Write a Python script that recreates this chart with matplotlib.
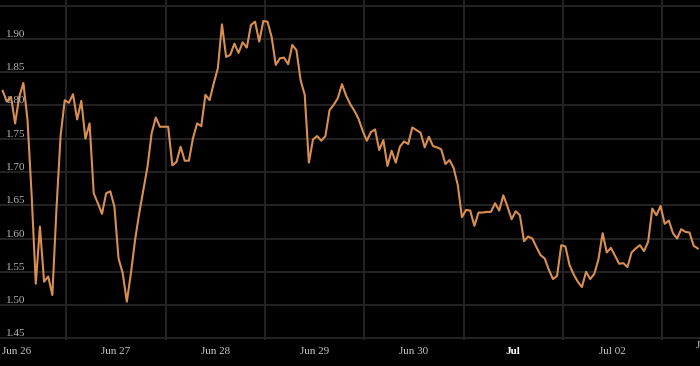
import numpy as np
import pandas as pd
import matplotlib
matplotlib.use('Agg')
import matplotlib.pyplot as plt
from matplotlib.transforms import offset_copy

# hourly price (Jun 25 evening -> Jul 02 evening)
price = [1.822, 1.806, 1.813, 1.773, 1.813, 1.834, 1.778, 1.665, 1.532, 1.618,
         1.535, 1.543, 1.515, 1.645, 1.755, 1.808, 1.804, 1.817, 1.779, 1.807,
         1.750, 1.773, 1.668, 1.653, 1.637, 1.668, 1.671, 1.648, 1.570, 1.548,
         1.505, 1.548, 1.598, 1.638, 1.673, 1.708, 1.758, 1.782, 1.768, 1.768,
         1.768, 1.710, 1.715, 1.738, 1.717, 1.717, 1.751, 1.773, 1.769, 1.816,
         1.808, 1.833, 1.856, 1.922, 1.873, 1.876, 1.893, 1.879, 1.895, 1.887,
         1.921, 1.926, 1.896, 1.927, 1.926, 1.903, 1.861, 1.871, 1.872, 1.862,
         1.891, 1.883, 1.838, 1.816, 1.714, 1.749, 1.754, 1.747, 1.754, 1.793,
         1.801, 1.811, 1.832, 1.815, 1.802, 1.792, 1.780, 1.762, 1.747, 1.760,
         1.764, 1.733, 1.748, 1.709, 1.732, 1.714, 1.738, 1.746, 1.742, 1.767,
         1.763, 1.759, 1.737, 1.753, 1.739, 1.737, 1.734, 1.712, 1.718, 1.706,
         1.680, 1.632, 1.643, 1.642, 1.619, 1.639, 1.639, 1.640, 1.640, 1.653,
         1.642, 1.665, 1.648, 1.629, 1.641, 1.635, 1.596, 1.603, 1.600, 1.587,
         1.575, 1.570, 1.553, 1.539, 1.544, 1.590, 1.588, 1.560, 1.546, 1.535,
         1.527, 1.550, 1.539, 1.547, 1.569, 1.608, 1.579, 1.586, 1.574, 1.562,
         1.563, 1.557, 1.579, 1.585, 1.590, 1.581, 1.595, 1.645, 1.635, 1.649,
         1.622, 1.627, 1.608, 1.600, 1.614, 1.610, 1.609, 1.589, 1.585]

times = pd.date_range('2024-06-25 20:37', periods=len(price), freq='h')

day_ticks = pd.date_range('2024-06-26', '2024-07-02', freq='D')
day_labels = ['Jun 26', 'Jun 27', 'Jun 28', 'Jun 29', 'Jun 30', 'Jul', 'Jul 02']
noon_lines = day_ticks + pd.Timedelta(hours=12)

y_grid = [1.45, 1.50, 1.55, 1.60, 1.65, 1.70, 1.75, 1.80, 1.85, 1.90, 1.95]
y_labels = ['1.45', '1.50', '1.55', '1.60', '1.65', '1.70', '1.75', '1.80', '1.85', '1.90']

serif = ['Liberation Serif', 'DejaVu Serif']
grid_col = '#262626'

fig = plt.figure(figsize=(7, 3.66), dpi=100, facecolor='black')
ax = fig.add_axes([0, 26 / 366, 1, 340 / 366], facecolor='black')

ax.plot(times, price, color='#d98f52', lw=1.5, solid_joinstyle='round', zorder=3)

ax.set_xlim(pd.Timestamp('2024-06-25 19:58'), pd.Timestamp('2024-07-02 21:09'))
ax.set_ylim(1.4474, 1.9586)

for s in ax.spines.values():
    s.set_visible(False)

# horizontal grid
ax.set_yticks(y_grid)
ax.tick_params(axis='y', length=0, labelleft=False)
ax.yaxis.grid(True, color=grid_col, lw=1.3)

# vertical grid at noon, labels at midnight
ax.set_xticks(noon_lines, minor=True)
ax.set_xticks(day_ticks)
ax.set_xticklabels(day_labels)
ax.xaxis.grid(True, which='minor', color=grid_col, lw=1.3)
ax.xaxis.grid(False, which='major')
ax.tick_params(axis='x', which='both', length=0, pad=5, labelsize=8, labelcolor='#c8c8c8')
for lab in ax.get_xticklabels():
    lab.set_family(serif)
    if lab.get_text() == 'Jul':
        lab.set_fontweight('bold')
        lab.set_color('white')

# y labels sit inside the plot, just above their grid line
tr = offset_copy(ax.get_yaxis_transform(), fig=fig, x=0, y=2, units='dots')
for v, s in zip(y_grid, y_labels):
    ax.text(0.008, v, s, transform=tr, ha='left', va='baseline',
            fontsize=8, color='#b4b4b4', family=serif)

# next day's label, cut off by the right edge as in the source
fig.text(696 / 700, 1 - 346 / 366, 'Jul 03', ha='left', va='center',
         fontsize=8, color='#c8c8c8', family=serif)

fig.savefig('out.png', dpi=100, facecolor='black')
